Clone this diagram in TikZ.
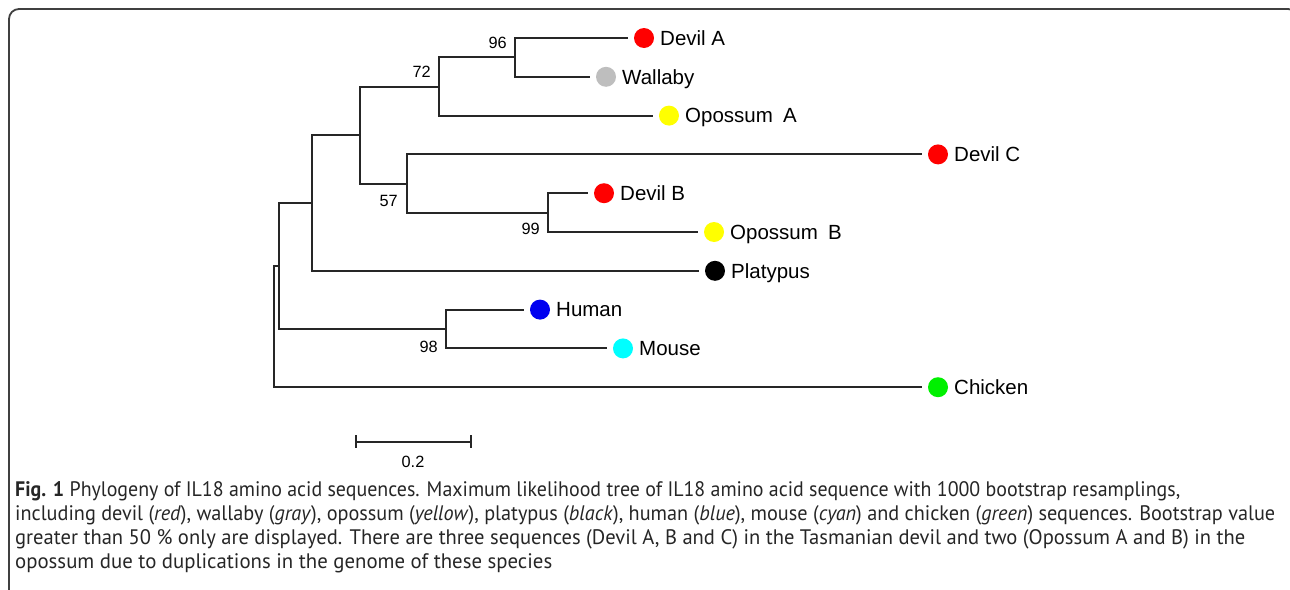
\documentclass[tikz,border=0pt]{standalone}
\usepackage{fontspec}
\setmainfont{Liberation Sans}
\newfontfamily\capfont{PT Sans}
\usetikzlibrary{calc}
\definecolor{linegray}{HTML}{262626}
\definecolor{wallgray}{HTML}{BEBEBE}
\definecolor{captext}{HTML}{262626}
\definecolor{dotcyan}{RGB}{0,255,255}
\definecolor{dotgreen}{RGB}{0,240,0}
\definecolor{dotyellow}{RGB}{255,255,0}
\definecolor{dotblue}{RGB}{0,0,240}
\definecolor{dotred}{RGB}{255,0,0}
\newcommand{\capline}[2]{\resizebox{#1}{\height}{\capfont\fontsize{21}{24}\selectfont #2}}
\begin{document}
\begin{tikzpicture}[x=1pt,y=-1pt,
  br/.style={line width=2pt, draw=linegray},
  dot/.style={circle, inner sep=0pt, minimum size=20pt, outer sep=6pt},
  leaf/.style={font=\fontsize{20.5}{24}\selectfont, inner sep=0pt, anchor=west, text height=14.7pt, text depth=0pt},
  bs/.style={font=\fontsize{16.3}{19}\selectfont, inner sep=0pt, anchor=east, text height=11.7pt, text depth=0pt},
  capl/.style={inner sep=0pt, anchor=base west, text=captext}]
\useasboundingbox (0,0) rectangle (1290,589);
% frame
\draw[line width=1.8pt, draw=black!75, rounded corners=10pt] (9,640) -- (9,9) -- (1298,9) -- (1298,640);

% leaves
\node[dot, fill=dotred]    (devA) at (644,38.0) {};
\node[dot, fill=wallgray]  (wal)  at (606,76.8) {};
\node[dot, fill=dotyellow] (opA)  at (669,115.6) {};
\node[dot, fill=dotred]    (devC) at (938,154.4) {};
\node[dot, fill=dotred]    (devB) at (604,193.2) {};
\node[dot, fill=dotyellow] (opB)  at (714,232.0) {};
\node[dot, fill=black]     (plat) at (715,270.8) {};
\node[dot, fill=dotblue]   (hum)  at (540,309.6) {};
\node[dot, fill=dotcyan]   (mou)  at (623,348.4) {};
\node[dot, fill=dotgreen]  (chk)  at (938,387.2) {};

\node[leaf] (devAl) at (devA.east) {Devil A};
\node[leaf] (wall)  at (wal.east)  {Wallaby};
\node[leaf] (opAl)  at (opA.east)  {Opossum\hspace{0.5em}A};
\node[leaf] (devCl) at (devC.east) {Devil C};
\node[leaf] (devBl) at (devB.east) {Devil B};
\node[leaf] (opBl)  at (opB.east)  {Opossum\hspace{0.5em}B};
\node[leaf] (platl) at (plat.east) {Platypus};
\node[leaf] (huml)  at (hum.east)  {Human};
\node[leaf] (moul)  at (mou.east)  {Mouse};
\node[leaf] (chkl)  at (chk.east)  {Chicken};

% internal nodes
\coordinate (n96)  at (515,57.4);
\coordinate (n72)  at (439,86.5);
\coordinate (n99)  at (548,212.6);
\coordinate (n57)  at (407,183.5);
\coordinate (nM)   at (360,135.0);
\coordinate (nT)   at (312,202.9);
\coordinate (n98)  at (446,329.0);
\coordinate (nMam) at (279,266.0);
\coordinate (root) at (274,326.6);

% branches
\draw[br] (n96.center) |- (devA.west);
\draw[br] (n96.center) |- (wal.west);
\draw[br] (n72.center) |- (n96.center);
\draw[br] (n72.center) |- (opA.west);
\draw[br] (n99.center) |- (devB.west);
\draw[br] (n99.center) |- (opB.west);
\draw[br] (n57.center) |- (devC.west);
\draw[br] (n57.center) |- (n99.center);
\draw[br] (nM.center) |- (n72.center);
\draw[br] (nM.center) |- (n57.center);
\draw[br] (nT.center) |- (nM.center);
\draw[br] (nT.center) |- (plat.west);
\draw[br] (n98.center) |- (hum.west);
\draw[br] (n98.center) |- (mou.west);
\draw[br] (nMam.center) |- (nT.center);
\draw[br] (nMam.center) |- (n98.center);
\draw[br] (root.center) |- (nMam.center);
\draw[br] (root.center) |- (chk.west);

% bootstrap values
\node[bs] (b96) at (507,43) {96};
\node[bs] (b72) at (431,72) {72};
\node[bs] (b57) at (398,201) {57};
\node[bs] (b99) at (540,229) {99};
\node[bs] (b98) at (438,347) {98};

% scale bar
\coordinate (sb1) at (355.7,441.7);
\coordinate (sb2) at (471,441.7);
\draw[br] (sb1) -- (sb2);
\draw[br] ($(sb1)+(0,-6.5)$) -- ($(sb1)+(0,6.5)$);
\draw[br] ($(sb2)+(0,-6.5)$) -- ($(sb2)+(0,6.5)$);
\node[font=\fontsize{16.3}{19}\selectfont, inner sep=0pt, text height=11.7pt, text depth=0pt] (sbl) at (413,462) {0.2};

% caption
\node[capl] (c1) at (15,496) {\capline{1165pt}{\textbf{Fig. 1} Phylogeny of IL18 amino acid sequences. Maximum likelihood tree of IL18 amino acid sequence with 1000 bootstrap resamplings,}};
\node[capl] (c2) at (15,520) {\capline{1260pt}{including devil (\textit{red}), wallaby (\textit{gray}), opossum (\textit{yellow}), platypus (\textit{black}), human (\textit{blue}), mouse (\textit{cyan}) and chicken (\textit{green}) sequences. Bootstrap value}};
\node[capl] (c3) at (15,544) {\capline{1230pt}{greater than 50 \% only are displayed. There are three sequences (Devil A, B and C) in the Tasmanian devil and two (Opossum A and B) in the}};
\node[capl] (c4) at (15,568) {\capline{537pt}{opossum due to duplications in the genome of these species}};
\end{tikzpicture}
\end{document}
